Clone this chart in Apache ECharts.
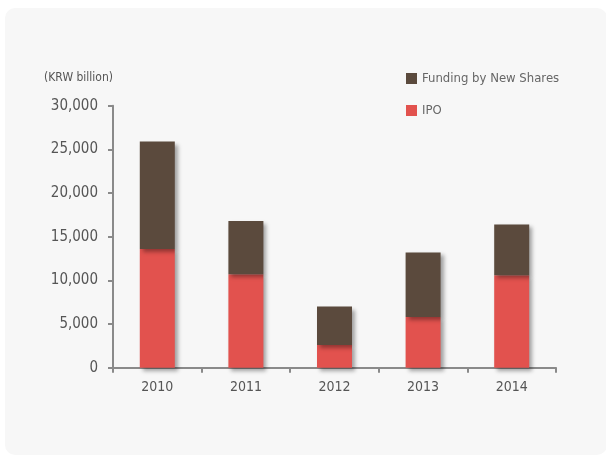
<!DOCTYPE html>
<html>
<head>
<meta charset="utf-8">
<script src="https://cdn.jsdelivr.net/npm/echarts@6/dist/echarts.min.js"></script>
<style>
  html, body { margin: 0; padding: 0; background: #fff; }
  #chart { width: 606px; height: 456px; }
</style>
</head>
<body>
<div id="chart"></div>
<script>
  const years = ['2010', '2011', '2012', '2013', '2014']
  const ipo = [13600, 10700, 2600, 5800, 10600]
  const newShares = [12300, 6100, 4400, 7400, 5800]
  const yTicks = [0, 5000, 10000, 15000, 20000, 25000, 30000]

  const font = '"Liberation Sans Narrow", "DejaVu Sans Condensed", "Roboto", sans-serif'
  const axisColor = '#8a8a8a'
  const barShadow = {
    shadowColor: 'rgba(0,0,0,0.35)',
    shadowBlur: 4,
    shadowOffsetX: 3,
    shadowOffsetY: 3,
  }

  const chart = echarts.init(document.getElementById('chart'))
  chart.setOption({
    animation: false,
    textStyle: { fontFamily: font },
    graphic: [
      {
        type: 'rect',
        z: -10,
        shape: { x: 5, y: 8, width: 602, height: 447, r: 10 },
        style: { fill: '#f7f7f7' },
      },
    ],
    legend: {
      orient: 'vertical',
      left: 406,
      top: 72,
      padding: 0,
      itemWidth: 11,
      itemHeight: 11,
      itemGap: 19,
      icon: 'rect',
      textStyle: { color: '#666', fontSize: 13, fontFamily: font, padding: [0, 0, 0, 0] },
      data: ['Funding by New Shares', 'IPO'],
    },
    grid: { left: 113, right: 50, top: 105.7, bottom: 88.3 },
    xAxis: {
      type: 'category',
      data: years,
      axisLine: { lineStyle: { color: axisColor, width: 2 } },
      axisTick: { show: true, length: 5, lineStyle: { color: axisColor, width: 2 } },
      axisLabel: { color: '#555', fontSize: 14, margin: 13, fontFamily: font },
    },
    yAxis: {
      type: 'value',
      min: yTicks[0],
      max: yTicks[yTicks.length - 1],
      interval: yTicks[1] - yTicks[0],
      name: '(KRW billion)',
      nameGap: 22,
      nameTextStyle: { color: '#555', fontSize: 12, align: 'right', fontFamily: font },
      axisLine: { show: true, lineStyle: { color: axisColor, width: 2 } },
      axisTick: { show: true, length: 5, lineStyle: { color: axisColor, width: 2 } },
      splitLine: { show: false },
      axisLabel: {
        color: '#555',
        fontSize: 15,
        margin: 15,
        fontFamily: font,
        formatter: (v) => v.toLocaleString('en-US'),
      },
    },
    series: [
      {
        name: 'IPO',
        type: 'bar',
        stack: 'total',
        barWidth: 35,
        data: ipo,
        itemStyle: Object.assign({ color: '#e2524e' }, barShadow),
      },
      {
        name: 'Funding by New Shares',
        type: 'bar',
        stack: 'total',
        barWidth: 35,
        data: newShares,
        itemStyle: Object.assign({ color: '#5b4a3d' }, barShadow),
      },
    ],
  })
</script>
</body>
</html>
